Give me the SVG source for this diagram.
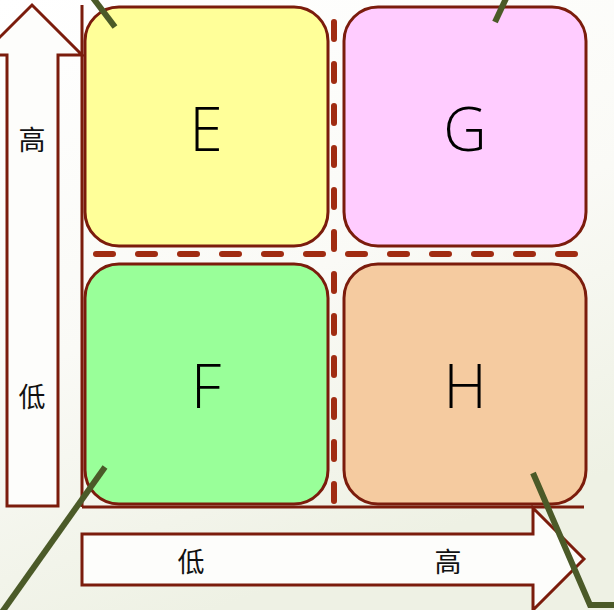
<svg xmlns="http://www.w3.org/2000/svg" width="614" height="610" viewBox="0 0 614 610">
  <defs>
    <linearGradient id="bg" x1="0" y1="0" x2="0.35" y2="1">
      <stop offset="0" stop-color="#ffffff"/>
      <stop offset="0.55" stop-color="#fafaf6"/>
      <stop offset="1" stop-color="#eef1e4"/>
    </linearGradient>
    <style>
      .box { stroke: #7b1c0c; stroke-width: 3; }
      .arrow { fill: #fdfdfb; stroke: #7b1c0c; stroke-width: 3; stroke-linejoin: miter; }
      .axis { stroke: #7b1c0c; stroke-width: 3; fill: none; }
      .dash { stroke: #a02c12; stroke-width: 6; stroke-linecap: round; stroke-dasharray: 17 25; fill: none; }
      .lead { stroke: #4b5a28; stroke-width: 6; fill: none; stroke-linejoin: miter; }
      .big { font-family: "Open Sans", "Liberation Sans", Arial, sans-serif; font-weight: 300; font-size: 60px; fill: #000; text-anchor: middle; }
      .cjk { font-family: "Liberation Sans", "Noto Sans CJK SC", sans-serif; font-size: 27px; fill: #111; text-anchor: middle; }
    </style>
  </defs>

  <rect width="614" height="610" fill="url(#bg)"/>

  <!-- axis arrows -->
  <g id="axis-y">
    <polygon class="arrow" points="7,506 7,55 -18,55 32,5 82,55 58,55 58,506"/>
    <text class="cjk" x="32" y="150">高</text>
    <text class="cjk" x="32" y="407">低</text>
  </g>
  <g id="axis-x">
    <polygon class="arrow" points="82,534 533,534 533,508 584,559 533,610 533,585 82,585"/>
    <text class="cjk" x="191" y="572">低</text>
    <text class="cjk" x="448" y="572">高</text>
  </g>

  <!-- quadrant boxes -->
  <g id="E">
    <rect class="box" x="85" y="7" width="243" height="239" rx="34" fill="#ffff99"/>
    <text class="big" x="206" y="151">E</text>
  </g>
  <g id="G">
    <rect class="box" x="344" y="7" width="242" height="239" rx="34" fill="#ffccff"/>
    <text class="big" x="465" y="151">G</text>
  </g>
  <g id="F">
    <rect class="box" x="85" y="264" width="243" height="240" rx="34" fill="#99ff99"/>
    <text class="big" x="206" y="408">F</text>
  </g>
  <g id="H">
    <rect class="box" x="344" y="264" width="242" height="240" rx="34" fill="#f5cba0"/>
    <text class="big" x="465" y="408">H</text>
  </g>

  <!-- axis lines, dividers and leader lines -->
  <g id="connectors">
    <line class="axis" x1="82" y1="5" x2="82" y2="507"/>
    <line class="axis" x1="82" y1="507" x2="584" y2="507"/>
    <line class="dash" x1="96" y1="254" x2="600" y2="254"/>
    <line class="dash" x1="334" y1="-20" x2="334" y2="510"/>
    <line class="lead" x1="87" y1="-10" x2="115" y2="27"/>
    <line class="lead" x1="510" y1="-10" x2="495" y2="22"/>
    <line class="lead" x1="105" y1="467" x2="0" y2="615"/>
    <polyline class="lead" points="533,473 590,605 620,605"/>
  </g>
</svg>
